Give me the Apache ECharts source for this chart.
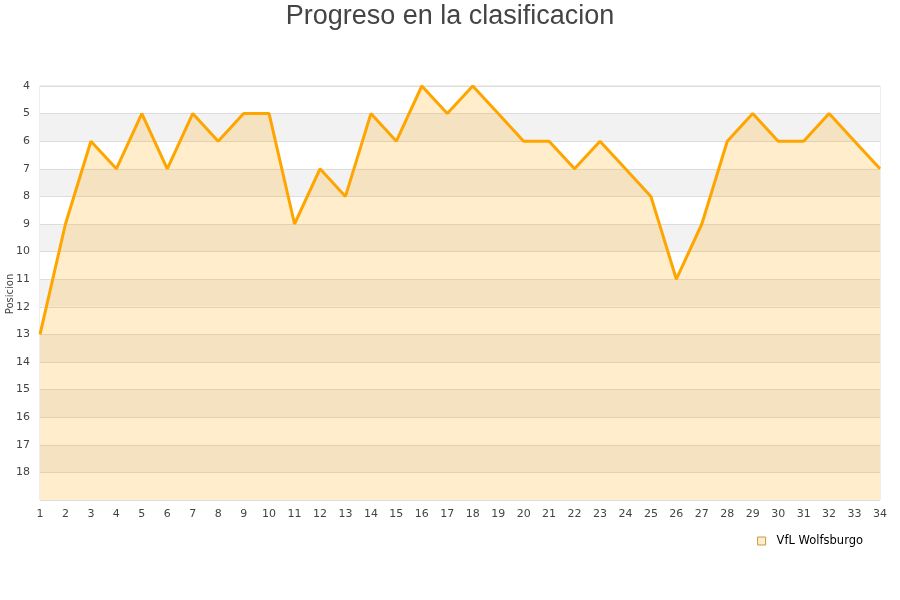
<!DOCTYPE html>
<html><head><meta charset="utf-8">
<script src="https://cdn.jsdelivr.net/npm/echarts@6/dist/echarts.min.js"></script>
<style>html,body{margin:0;padding:0;background:#fff}#c{width:900px;height:600px}</style>
</head><body><div id="c"></div>
<script>
const jornadas = [1,2,3,4,5,6,7,8,9,10,11,12,13,14,15,16,17,18,19,20,21,22,23,24,25,26,27,28,29,30,31,32,33,34];
const posiciones = [13,9,6,7,5,7,5,6,5,5,9,7,8,5,6,4,5,4,5,6,6,7,6,7,8,11,9,6,5,6,6,5,6,7];
const seriesName = 'VfL Wolfsburgo';
const titleText = 'Progreso en la clasificacion';
const yName = 'Posicion';

const chart = echarts.init(document.getElementById('c'));
chart.setOption({
  animation: false,
  title: { text: titleText, left: 'center', top: -2, textStyle: { fontSize: 27, fontWeight: 'normal', color: '#444', fontFamily: 'Liberation Sans' } },
  grid: { left: 40, right: 20, top: 86, bottom: 100, show: true, borderColor: '#ddd', borderWidth: 1, containLabel: false, outerBoundsMode: 'none' },
  legend: { right: 32, top: 530, itemWidth: 8, itemHeight: 8, icon: 'rect', itemGap: 10,
    textStyle: { fontSize: 11.5, color: '#000', fontFamily: 'DejaVu Sans', padding: [0, 0, 0, 6] },
    data: [{ name: seriesName, itemStyle: { color: '#ffeecc', borderColor: '#c89a40', borderWidth: 1 } }] },
  graphic: [{ type: 'text', x: 10, y: 294, rotation: Math.PI / 2,
    style: { text: yName, fontSize: 10, fill: '#444', fontFamily: 'DejaVu Sans', align: 'center', verticalAlign: 'middle' } }],
  xAxis: { type: 'category', data: jornadas, boundaryGap: false,
    axisLine: { show: false }, axisTick: { show: false },
    axisLabel: { fontSize: 11, color: '#444', margin: 9, fontFamily: 'DejaVu Sans' },
    splitLine: { show: false } },
  yAxis: { type: 'value', inverse: true, min: 4, max: 19, interval: 1,
    axisLine: { show: false }, axisTick: { show: false },
    axisLabel: { fontSize: 11, color: '#444', margin: 10, fontFamily: 'DejaVu Sans',
      formatter: v => v === 19 ? '' : String(v) },
    splitLine: { show: true, lineStyle: { color: '#dddddd', width: 1 } },
    splitArea: { show: true, areaStyle: { color: ['#ffffff', '#f2f2f2'] } } },
  series: [{ name: seriesName, type: 'line', data: posiciones, symbol: 'none',
    lineStyle: { color: '#ffa500', width: 3 }, itemStyle: { color: '#ffa500' },
    areaStyle: { color: '#ffa500', opacity: 0.2, origin: 'end' } }]
});
</script></body></html>
